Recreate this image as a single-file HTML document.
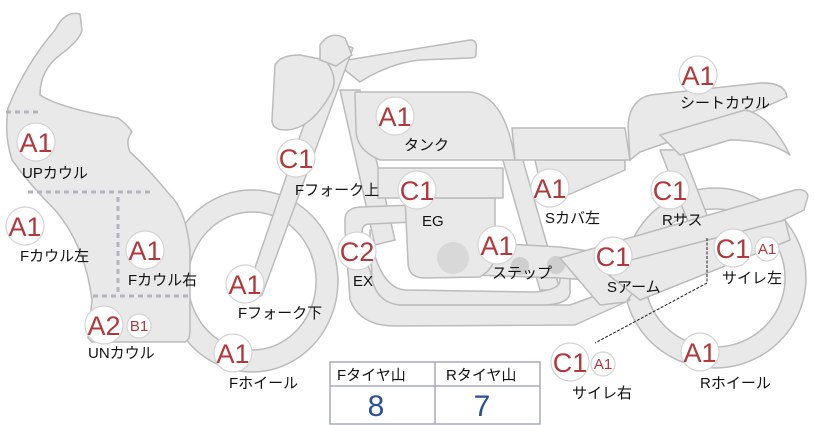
<!DOCTYPE html>
<html><head><meta charset="utf-8"><style>
html,body{margin:0;padding:0;background:#fff;}
svg{display:block;}
.p{fill:#e9e9e9;stroke:#bbbbbb;stroke-width:1.5;stroke-linejoin:round;}
.c{fill:#fff;stroke:#d4d4d4;stroke-width:1.2;}
.r{fill:#b2393b;font-family:"Liberation Sans",sans-serif;font-size:27px;text-anchor:middle;}
.rs{fill:#b2393b;font-family:"Liberation Sans",sans-serif;font-size:15px;text-anchor:middle;}
.l{fill:#111;font-family:"Liberation Sans","Noto Sans CJK JP",sans-serif;font-size:15px;}
</style></head><body>
<svg width="822" height="425" viewBox="0 0 822 425" xmlns="http://www.w3.org/2000/svg">
<!-- front wheel -->
<path class="p" fill-rule="evenodd" d="M252,190 a86,91 0 1,1 -0.1,0 Z M252,212 a64,69 0 1,0 0.1,0 Z"/>
<!-- rear wheel -->
<path class="p" fill-rule="evenodd" d="M715,188 a91,90 0 1,1 -0.1,0 Z M715,209 a70,69 0 1,0 0.1,0 Z"/>
<!-- frame top tube -->
<path class="p" d="M335,62 L470,40 Q478,40 476,50 L476,55 Q476,58 470,58 L420,60 Q390,63 360,82 Z"/>
<path class="p" d="M500,150 L520,150 L560,290 L540,290 Z"/>
<path class="p" d="M340,90 L360,90 L395,240 L375,245 Z"/>
<!-- rear shock -->
<path class="p" d="M660,150 L682,150 L712,228 L692,232 Z"/>
<!-- exhaust -->
<path class="p" d="M345,230 L345,220 Q345,208 360,207 L415,205 L415,222 L370,224 Q362,224 362,232 Q370,300 400,305 L570,305 L625,285 L630,300 L575,325 L395,326 Q360,326 350,300 Z"/>
<path class="p" d="M370,230 L370,236 Q380,288 405,290 L535,292 Q560,290 560,280 L560,270 L570,275 L570,292 Q570,305 540,305 L400,305 Q378,303 372,280 Z"/>
<path class="p" d="M440,240 L560,247 L640,258 L640,284 L560,278 L440,274 Z"/>
<!-- engine -->
<path class="p" d="M405,198 L495,198 L495,240 Q500,265 480,277 L425,278 Q408,278 408,262 Z"/>
<circle cx="453" cy="258" r="16" fill="#d8d8d8"/>
<circle cx="520" cy="266" r="9" fill="#cfcfcf"/>
<circle cx="556" cy="265" r="9" fill="#cfcfcf"/>
<rect class="p" x="378" y="168" width="125" height="30"/>
<!-- swingarm -->
<path class="p" d="M560,258 L795,190 Q806,188 808,196 L804,210 L632,294 L626,302 L600,305 Z"/>
<path class="p" d="M600,268 L785,220 L790,240 L640,300 Z"/>
<path class="p" d="M535,160 L625,160 L625,170 L545,205 Z"/>
<path class="p" d="M512,128 L625,128 L630,160 L515,160 Z"/>
<!-- seat cowl -->
<path class="p" d="M628,125 Q630,100 650,95 L760,83 Q785,82 787,97 Q750,115 680,138 L640,152 L630,160 Z"/>
<path class="p" d="M660,135 L745,110 Q770,115 790,155 Q770,140 730,140 L680,155 Z"/>
<!-- tank -->
<path class="p" d="M355,92 L470,92 Q505,95 515,160 L380,160 Q356,150 356,130 Z"/>
<!-- fork -->
<path class="p" d="M333,40 L353,48 L262,295 Q255,300 245,297 Z"/>
<path class="p" d="M275,65 Q280,55 300,55 L325,60 Q340,78 330,95 Q310,130 285,130 Q272,130 272,120 Z"/>
<path class="p" d="M320,45 Q330,30 345,38 L352,55 L336,66 L320,60 Z"/>
<!-- front fairing -->
<path class="p" d="M80,14 Q65,10 55,30 Q25,65 8,108 Q4,135 12,160 Q30,185 55,210 Q85,245 92,300 L88,338 L92,342 L185,342 Q190,340 190,330 L190,250 Q186,210 170,195 Q145,165 130,152 Q125,140 132,132 Q128,125 118,118 Q60,108 40,95 Q40,70 60,55 Q80,40 82,30 Z"/>
<g stroke="#b4b4c0" stroke-width="3" stroke-dasharray="5,4" fill="none">
<line x1="6" y1="112" x2="40" y2="112"/>
<line x1="28" y1="192" x2="153" y2="192"/>
<line x1="118" y1="197" x2="118" y2="295"/>
<line x1="93" y1="296" x2="190" y2="296"/>
</g>
<polyline points="707,238 707,283 595,343" fill="none" stroke="#222" stroke-width="1" stroke-dasharray="3,1.5"/>
<g>
<circle class="c" cx="36" cy="142" r="19"/><text class="r" x="36" y="152">A1</text>
<circle class="c" cx="25" cy="226" r="19"/><text class="r" x="25" y="236">A1</text>
<circle class="c" cx="145" cy="250" r="19"/><text class="r" x="145" y="260">A1</text>
<circle class="c" cx="104" cy="325" r="19"/><text class="r" x="104" y="335">A2</text>
<circle class="c" cx="139" cy="326" r="12"/><text class="rs" x="139" y="331">B1</text>
<circle class="c" cx="245" cy="284" r="19"/><text class="r" x="245" y="294">A1</text>
<circle class="c" cx="233" cy="353" r="19"/><text class="r" x="233" y="363">A1</text>
<circle class="c" cx="296" cy="158" r="19"/><text class="r" x="296" y="168">C1</text>
<circle class="c" cx="357" cy="251" r="19"/><text class="r" x="357" y="261">C2</text>
<circle class="c" cx="395" cy="116" r="19"/><text class="r" x="395" y="126">A1</text>
<circle class="c" cx="417" cy="190" r="19"/><text class="r" x="417" y="200">C1</text>
<circle class="c" cx="497" cy="245" r="19"/><text class="r" x="497" y="255">A1</text>
<circle class="c" cx="550" cy="188" r="19"/><text class="r" x="550" y="198">A1</text>
<circle class="c" cx="613" cy="256" r="19"/><text class="r" x="613" y="266">C1</text>
<circle class="c" cx="670" cy="190" r="19"/><text class="r" x="670" y="200">C1</text>
<circle class="c" cx="698" cy="75" r="19"/><text class="r" x="698" y="85">A1</text>
<circle class="c" cx="733" cy="248" r="19"/><text class="r" x="733" y="258">C1</text>
<circle class="c" cx="767" cy="249" r="12"/><text class="rs" x="767" y="254">A1</text>
<circle class="c" cx="570" cy="362" r="19"/><text class="r" x="570" y="372">C1</text>
<circle class="c" cx="603" cy="364" r="12"/><text class="rs" x="603" y="369">A1</text>
<circle class="c" cx="700" cy="352" r="19"/><text class="r" x="700" y="362">A1</text>
</g>
<g>
<text class="l" x="22" y="178">UPカウル</text>
<text class="l" x="20" y="261">Fカウル左</text>
<text class="l" x="128" y="285">Fカウル右</text>
<text class="l" x="88" y="358">UNカウル</text>
<text class="l" x="238" y="318">Fフォーク下</text>
<text class="l" x="229" y="388">Fホイール</text>
<text class="l" x="295" y="195">Fフォーク上</text>
<text class="l" x="353" y="286">EX</text>
<text class="l" x="404" y="150">タンク</text>
<text class="l" x="422" y="226">EG</text>
<text class="l" x="492" y="278">ステップ</text>
<text class="l" x="545" y="223">Sカバ左</text>
<text class="l" x="607" y="292">Sアーム</text>
<text class="l" x="662" y="225">Rサス</text>
<text class="l" x="680" y="108">シートカウル</text>
<text class="l" x="722" y="283">サイレ左</text>
<text class="l" x="572" y="398">サイレ右</text>
<text class="l" x="700" y="388">Rホイール</text>
</g>
<rect x="330" y="362" width="210" height="62" fill="#fff" stroke="#a8aabb" stroke-width="1.5"/>
<line x1="330" y1="386" x2="540" y2="386" stroke="#a8aabb" stroke-width="1.5"/>
<line x1="435" y1="362" x2="435" y2="424" stroke="#a8aabb" stroke-width="1.5"/>
<text class="l" x="337" y="380">Fタイヤ山</text>
<text class="l" x="446" y="380">Rタイヤ山</text>
<text x="376" y="416" font-family="Liberation Sans,sans-serif" font-size="30" fill="#2d4f9a" text-anchor="middle">8</text>
<text x="482" y="416" font-family="Liberation Sans,sans-serif" font-size="30" fill="#2d4f9a" text-anchor="middle">7</text>
</svg>
</body></html>
